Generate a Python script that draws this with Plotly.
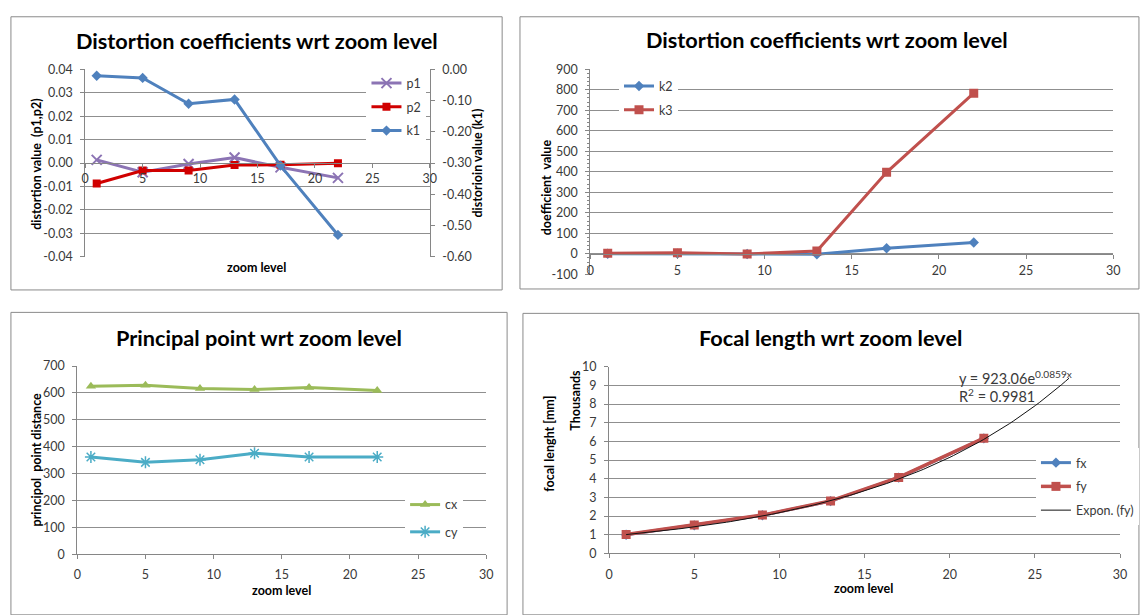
import plotly.graph_objects as go
import numpy as np

W, H = 1140, 615
def px(x): return x / W
def py(y): return 1 - y / H

# ---------------- data ----------------
zoom_level = [1, 5, 9, 13, 17, 22]
# panel 1 (distortion, p1/p2 left axis, k1 right axis)
p1 = [0.0014, -0.0039, -0.0004, 0.0024, -0.0018, -0.0063]
p2 = [-0.0087, -0.0032, -0.0032, -0.0008, -0.0007, -0.0001]
k1 = [-0.020, -0.027, -0.110, -0.096, -0.308, -0.530]
# panel 2
k2 = [0, 1, -1, -2, 27, 55]
k3 = [3, 5, -1, 14, 397, 783]
# panel 3
cx = [625, 629, 617, 613, 620, 609]
cy = [362, 342, 352, 376, 362, 362]
# panel 4 (mm)
fx = [1000, 1500, 2040, 2800, 4060, 6160]
fy = [1010, 1520, 2050, 2810, 4070, 6170]
trend_a = 923.06
trend_b = 0.0859
trend_x_end = 27

x_ticks = [0, 5, 10, 15, 20, 25, 30]
p_ticks = [-0.04, -0.03, -0.02, -0.01, 0.0, 0.01, 0.02, 0.03, 0.04]
k1_ticks = [-0.6, -0.5, -0.4, -0.3, -0.2, -0.1, 0.0]
k_ticks = [-100, 0, 100, 200, 300, 400, 500, 600, 700, 800, 900]
c_ticks = [0, 100, 200, 300, 400, 500, 600, 700]
f_ticks = [0, 1000, 2000, 3000, 4000, 5000, 6000, 7000, 8000, 9000, 10000]

FONT = "Lato"
GRID = "#8f8f8f"
AX = "#868686"
TC = "#3a3a3a"

def fmt(v, d):
    s = f"{v:.{d}f}"
    if s.startswith("-") and float(s) == 0:
        s = s[1:]
    return s

fig = go.Figure()

def line_trace(x, y, name, color, symbol, xa, ya, leg, size=8, width=3, mline=None):
    m = dict(symbol=symbol, size=size, color=color)
    if mline:
        m["line"] = mline
    return go.Scatter(x=x, y=y, name=name, mode="lines+markers", xaxis=xa, yaxis=ya,
                      line=dict(color=color, width=width), marker=m,
                      legend=leg, legendgroup=name)

# panel 1
fig.add_trace(line_trace(zoom_level, p1, "p1", "#8C74B4", "x-thin-open", "x", "y", "legend",
                         size=10, mline=dict(width=2, color="#8C74B4")))
fig.add_trace(line_trace(zoom_level, p2, "p2", "#D00000", "square", "x", "y", "legend", size=8))
fig.add_trace(line_trace(zoom_level, k1, "k1", "#4F81BD", "diamond", "x", "y2", "legend", size=8))
# panel 2
fig.add_trace(line_trace(zoom_level, k2, "k2", "#4F81BD", "diamond", "x2", "y3", "legend2", size=8))
fig.add_trace(line_trace(zoom_level, k3, "k3", "#C0504D", "square", "x2", "y3", "legend2", size=9))
# panel 3
fig.add_trace(line_trace(zoom_level, cx, "cx", "#9BBB59", "triangle-up", "x3", "y4", "legend3", size=9))
fig.add_trace(line_trace(zoom_level, cy, "cy", "#4BACC6", "asterisk-open", "x3", "y4", "legend3",
                         size=10, mline=dict(width=1.5, color="#4BACC6")))
# panel 4
fig.add_trace(line_trace(zoom_level, fx, "fx", "#4F81BD", "diamond", "x4", "y5", "legend4", size=8))
fig.add_trace(line_trace(zoom_level, fy, "fy", "#C0504D", "square", "x4", "y5", "legend4", size=9, width=3.5))
tx = np.linspace(zoom_level[0], trend_x_end, 120)
fig.add_trace(go.Scatter(x=tx, y=trend_a * np.exp(trend_b * tx), name="Expon. (fy)", mode="lines",
                         xaxis="x4", yaxis="y5", line=dict(color="#111111", width=1),
                         legend="legend4", legendgroup="trend"))

tickfont = dict(family=FONT, size=12.5, color=TC)
common_x = dict(range=[0, 30], tickvals=x_ticks, ticktext=[str(v) for v in x_ticks],
                showline=True, linecolor=AX, linewidth=1, ticks="outside", ticklen=4,
                tickcolor=AX, showgrid=False, zeroline=False, tickfont=tickfont,
                ticklabelstandoff=2, fixedrange=True)
common_y = dict(showline=True, linecolor=AX, linewidth=1, ticks="outside", ticklen=4,
                tickcolor=AX, showgrid=True, gridcolor=GRID, gridwidth=1, zeroline=False,
                tickfont=tickfont, ticklabelstandoff=5, fixedrange=True)

layout = dict(
    width=W, height=H, margin=dict(l=0, r=0, t=0, b=0),
    paper_bgcolor="white", plot_bgcolor="white", showlegend=True,
    font=dict(family=FONT, size=12, color=TC),
    xaxis=dict(common_x, domain=[px(82), px(430)], anchor="free", position=py(159),
               ticklabelstandoff=0),
    yaxis=dict(common_y, domain=[py(255), py(63)], anchor="x", range=[-0.04, 0.04],
               tickvals=p_ticks, ticktext=[fmt(v, 2) for v in p_ticks]),
    yaxis2=dict(common_y, overlaying="y", side="right", anchor="x", range=[-0.6, 0.0],
                tickvals=k1_ticks, ticktext=[fmt(v, 2) for v in k1_ticks], showgrid=False),
    xaxis2=dict(common_x, domain=[px(592), px(1120)], anchor="free", position=py(252),
                ticklabelstandoff=1),
    yaxis3=dict(common_y, domain=[py(273), py(62.7)], anchor="x2", range=[-100, 900],
                tickvals=k_ticks, ticktext=[str(v) for v in k_ticks],
                minor=dict(dtick=20, ticks="outside", ticklen=2, tickcolor=AX, showgrid=False)),
    xaxis3=dict(common_x, domain=[px(74), px(487)], anchor="y4", ticklabelstandoff=5),
    yaxis4=dict(common_y, domain=[py(560), py(367)], anchor="x3", range=[0, 700],
                tickvals=c_ticks, ticktext=[str(v) for v in c_ticks]),
    xaxis4=dict(common_x, domain=[px(611), px(1127)], anchor="y5", ticklabelstandoff=6),
    yaxis5=dict(common_y, domain=[py(559), py(367.7)], anchor="x4", range=[0, 10000],
                tickvals=f_ticks, ticktext=[str(v // 1000) for v in f_ticks]),
)

legfont = dict(family=FONT, size=12.5, color=TC)
def leg(x, y, gap, bg="white"):
    return dict(x=px(x), y=py(y), xanchor="left", yanchor="top", bgcolor=bg,
                borderwidth=0, font=legfont, itemwidth=30, tracegroupgap=gap,
                traceorder="grouped", itemclick=False, itemdoubleclick=False)
layout["legend"] = leg(366, 62, 4.5)
layout["legend2"] = leg(621, 65, 4.5)
layout["legend3"] = leg(405, 494, 8)
layout["legend4"] = leg(1042, 451, 4.5)

shapes = []
def box(x0, y0, x1, y1):
    shapes.append(dict(type="rect", xref="paper", yref="paper", x0=px(x0), x1=px(x1),
                       y0=py(y1), y1=py(y0), line=dict(color="#8a8a8a", width=1),
                       fillcolor="rgba(0,0,0,0)", layer="below"))
box(7, 9, 503, 289)
box(521, 9, 1146, 288)
box(7, 312, 508, 622)
box(524, 313, 1146, 622)
layout["shapes"] = shapes

ann = []
def text(x, y, s, size=12, bold=False, angle=0, xanchor="center", color="#000000"):
    if bold:
        s = f"<b>{s}</b>"
    ann.append(dict(x=px(x), y=py(y), xref="paper", yref="paper", text=s, showarrow=False,
                    xanchor=xanchor, yanchor="middle", textangle=angle,
                    font=dict(family=FONT, size=size, color=color)))
TITLE = 21.7
text(255, 34, "Distortion coefficients wrt zoom level", TITLE, True)
text(831, 33, "Distortion coefficients wrt zoom level", TITLE, True)
text(257, 338, "Principal point wrt zoom level", TITLE, True)
text(835, 338, "Focal length wrt zoom level", TITLE, True)
AT = 12.5
text(32, 160, "distortion value  (p1,p2)", AT, True, -90)
text(478, 159, "distorioin value (k1)", AT, True, -90)
text(255, 266, "zoom level", AT, True)
text(548, 184, "doefficient  value", AT, True, -90)
text(33, 463, "principol  point distance", AT, True, -90)
text(280, 597, "zoom level", AT, True)
text(550, 447, "focal lenght [mm]", AT, True, -90)
text(577, 402, "Thousands", AT, True, -90)
text(868, 595, "zoom level", AT, True)
text(962, 379, "y = 923.06e<sup>0.0859x</sup>", 14.5, False, 0, "left", TC)
text(962, 397, "R<sup>2</sup> = 0.9981", 14.5, False, 0, "left", TC)
layout["annotations"] = ann

fig.update_layout(**layout)
fig.write_html("out.html", config=dict(displayModeBar=False))
